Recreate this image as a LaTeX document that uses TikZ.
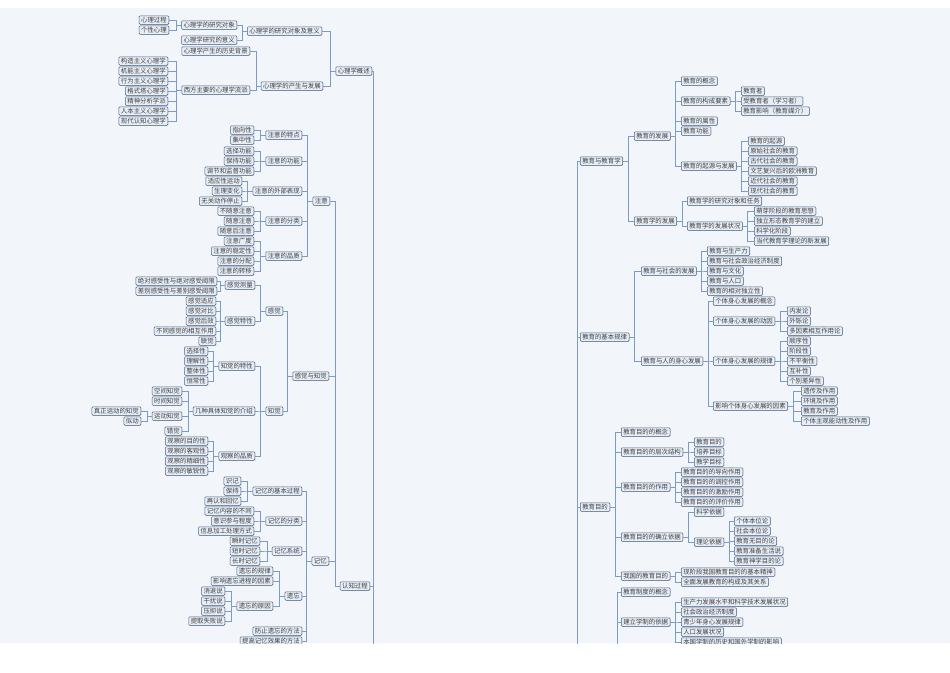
\documentclass[tikz,border=0pt]{standalone}
\usepackage{fontspec}
\setmainfont{Noto Sans CJK SC}
\usetikzlibrary{shadows}
\definecolor{bgc}{HTML}{F2F5FA}
\definecolor{boxf}{HTML}{E8EEF6}
\definecolor{boxd}{HTML}{4A6386}
\definecolor{lnc}{HTML}{7A9CC6}
\tikzset{
 box/.style={draw=boxd,fill=boxf,rounded corners=1pt,line width=0.5pt,inner xsep=2pt,inner ysep=0.8pt,minimum height=8.5pt,font=\fontsize{6.4}{7}\selectfont,text=black!75,drop shadow={shadow xshift=0.5pt,shadow yshift=-0.5pt,fill=boxd!60}},
 conn/.style={draw=lnc,line width=0.6pt}
}
\newcommand\LN[4]{\node[box,anchor=east] (#1) at (#2,#3) {#4};}
\newcommand\RN[4]{\node[box,anchor=west] (#1) at (#2,#3) {#4};}
\newcommand\LB[2]{\foreach \c in {#2}{\draw[conn] (#1.west) -- ++(-5,0) |- (\c.east);}}
\newcommand\RB[2]{\foreach \c in {#2}{\draw[conn] (#1.east) -- ++(5,0) |- (\c.west);}}
\begin{document}
\begin{tikzpicture}[x=1pt,y=-1pt]
\useasboundingbox (0,0) rectangle (950,672);
\fill[white] (0,0) rectangle (950,672);
\fill[bgc] (0,8) rectangle (950,643);
\clip (0,8) rectangle (950,643);
% ---- left: 心理学概述
\LN{a1}{169}{20}{心理过程}
\LN{a2}{169}{30}{个性心理}
\LN{a3}{237}{25}{心理学的研究对象}
\LN{a4}{237}{40}{心理学研究的意义}
\LN{a5}{322}{31}{心理学的研究对象及意义}
\LN{a6}{250}{51}{心理学产生的历史背景}
\LN{b1}{168}{61}{构造主义心理学}
\LN{b2}{168}{71}{机能主义心理学}
\LN{b3}{168}{81}{行为主义心理学}
\LN{b4}{168}{91}{格式塔心理学}
\LN{b5}{168}{101}{精神分析学派}
\LN{b6}{168}{111}{人本主义心理学}
\LN{b7}{168}{121}{现代认知心理学}
\LN{a7}{250}{90}{西方主要的心理学流派}
\LN{a8}{323}{86}{心理学的产生与发展}
\LN{xl}{372}{71}{心理学概述}
\LB{a3}{a1,a2}\LB{a5}{a3,a4}\LB{a7}{b1,b2,b3,b4,b5,b6,b7}\LB{a8}{a6,a7}\LB{xl}{a5,a8}
% ---- 注意
\LN{c1}{254}{130}{指向性}
\LN{c2}{254}{140}{集中性}
\LN{c3}{302}{135}{注意的特点}
\LN{c4}{254}{151}{选择功能}
\LN{c5}{254}{161}{保持功能}
\LN{c6}{254}{171}{调节和监督功能}
\LN{c7}{302}{161}{注意的功能}
\LN{c8}{242}{181}{适应性运动}
\LN{c9}{242}{191}{生理变化}
\LN{c10}{242}{201}{无关动作停止}
\LN{c11}{302}{191}{注意的外部表现}
\LN{c12}{254}{211}{不随意注意}
\LN{c13}{254}{221}{随意注意}
\LN{c14}{254}{231}{随意后注意}
\LN{c15}{302}{221}{注意的分类}
\LN{c16}{254}{241}{注意广度}
\LN{c17}{254}{251}{注意的稳定性}
\LN{c18}{254}{261}{注意的分配}
\LN{c19}{254}{271}{注意的转移}
\LN{c20}{302}{256}{注意的品质}
\LN{zy}{330}{201}{注意}
\LB{c3}{c1,c2}\LB{c7}{c4,c5,c6}\LB{c11}{c8,c9,c10}\LB{c15}{c12,c13,c14}\LB{c20}{c16,c17,c18,c19}
\LB{zy}{c3,c7,c11,c15,c20}
% ---- 感觉与知觉
\LN{d1}{217}{281}{绝对感受性与绝对感受阈限}
\LN{d2}{217}{291}{差别感受性与差别感受阈限}
\LN{d3}{255}{285}{感觉测量}
\LN{d4}{216}{301}{感觉适应}
\LN{d5}{216}{311}{感觉对比}
\LN{d6}{216}{321}{感觉后效}
\LN{d7}{216}{331}{不同感觉的相互作用}
\LN{d8}{216}{341}{联觉}
\LN{d9}{255}{321}{感觉特性}
\LN{gj}{283}{311}{感觉}
\LN{e1}{208}{351}{选择性}
\LN{e2}{208}{361}{理解性}
\LN{e3}{208}{371}{整体性}
\LN{e4}{208}{381}{恒常性}
\LN{e5}{255}{366}{知觉的特性}
\LN{e6}{182}{391}{空间知觉}
\LN{e7}{182}{401}{时间知觉}
\LN{e8}{141}{411}{真正运动的知觉}
\LN{e9}{141}{421}{似动}
\LN{e10}{182}{416}{运动知觉}
\LN{e11}{182}{431}{错觉}
\LN{e12}{255}{411}{几种具体知觉的介绍}
\LN{e13}{208}{441}{观察的目的性}
\LN{e14}{208}{451}{观察的客观性}
\LN{e15}{208}{461}{观察的精细性}
\LN{e16}{208}{471}{观察的敏锐性}
\LN{e17}{255}{456}{观察的品质}
\LN{zj}{283}{411}{知觉}
\LN{gz}{329}{376}{感觉与知觉}
\LB{d3}{d1,d2}\LB{d9}{d4,d5,d6,d7,d8}\LB{gj}{d3,d9}
\LB{e5}{e1,e2,e3,e4}\LB{e10}{e8,e9}\LB{e12}{e6,e7,e10,e11}\LB{e17}{e13,e14,e15,e16}
\LB{zj}{e5,e12,e17}\LB{gz}{gj,zj}
% ---- 记忆
\LN{f1}{241}{481}{识记}
\LN{f2}{241}{491}{保持}
\LN{f3}{241}{501}{再认和回忆}
\LN{f4}{302}{491}{记忆的基本过程}
\LN{f5}{254}{511}{记忆内容的不同}
\LN{f6}{254}{521}{意识参与程度}
\LN{f7}{254}{531}{信息加工处理方式}
\LN{f8}{302}{521}{记忆的分类}
\LN{f9}{260}{541}{瞬时记忆}
\LN{f10}{260}{551}{短时记忆}
\LN{f11}{260}{561}{长时记忆}
\LN{f12}{302}{551}{记忆系统}
\LN{f13}{273}{571}{遗忘的规律}
\LN{f14}{273}{581}{影响遗忘进程的因素}
\LN{g1}{225}{591}{消退说}
\LN{g2}{225}{601}{干扰说}
\LN{g3}{225}{611}{压抑说}
\LN{g4}{225}{621}{提取失败说}
\LN{f15}{273}{606}{遗忘的原因}
\LN{f16}{302}{596}{遗忘}
\LN{f17}{302}{631}{防止遗忘的方法}
\LN{f18}{302}{641}{提高记忆效果的方法}
\LN{jy}{329}{561}{记忆}
\LN{rz}{370}{586}{认知过程}
\LB{f4}{f1,f2,f3}\LB{f8}{f5,f6,f7}\LB{f12}{f9,f10,f11}\LB{f15}{g1,g2,g3,g4}\LB{f16}{f13,f14,f15}
\LB{jy}{f4,f8,f12,f16,f17,f18}\LB{rz}{zy,gz,jy}
\coordinate (bl) at (373,660);
\draw[conn] (xl.east) -| (bl);
\draw[conn] (rz.east) -- (rz.east -| bl);
% ---- right: 教育与教育学
\RN{h1}{681}{81}{教育的概念}
\RN{h2}{681}{101}{教育的构成要素}
\RN{i1}{741}{91}{教育者}
\RN{i2}{741}{101}{受教育者（学习者）}
\RN{i3}{741}{111}{教育影响（教育媒介）}
\RN{h3}{681}{121}{教育的属性}
\RN{h4}{681}{131}{教育功能}
\RN{h5}{681}{166}{教育的起源与发展}
\RN{j1}{748}{141}{教育的起源}
\RN{j2}{748}{151}{原始社会的教育}
\RN{j3}{748}{161}{古代社会的教育}
\RN{j4}{748}{171}{文艺复兴后的欧洲教育}
\RN{j5}{748}{181}{近代社会的教育}
\RN{j6}{748}{191}{现代社会的教育}
\RN{hf}{634}{136}{教育的发展}
\RN{k1}{687}{201}{教育学的研究对象和任务}
\RN{k2}{687}{226}{教育学的发展状况}
\RN{l1}{754}{211}{萌芽阶段的教育思想}
\RN{l2}{754}{221}{独立形态教育学的建立}
\RN{l3}{754}{231}{科学化阶段}
\RN{l4}{754}{241}{当代教育学理论的新发展}
\RN{kf}{634}{221}{教育学的发展}
\RN{jj}{580}{161}{教育与教育学}
\RB{h2}{i1,i2,i3}\RB{h5}{j1,j2,j3,j4,j5,j6}\RB{hf}{h1,h2,h3,h4,h5}
\RB{k2}{l1,l2,l3,l4}\RB{kf}{k1,k2}\RB{jj}{hf,kf}
% ---- 教育的基本规律
\RN{m1}{707}{251}{教育与生产力}
\RN{m2}{707}{261}{教育与社会政治经济制度}
\RN{m3}{707}{271}{教育与文化}
\RN{m4}{707}{281}{教育与人口}
\RN{m5}{707}{291}{教育的相对独立性}
\RN{ms}{641}{271}{教育与社会的发展}
\RN{n1}{713}{301}{个体身心发展的概念}
\RN{n2}{713}{321}{个体身心发展的动因}
\RN{o1}{787}{311}{内发论}
\RN{o2}{787}{321}{外铄论}
\RN{o3}{787}{331}{多因素相互作用论}
\RN{n3}{713}{361}{个体身心发展的规律}
\RN{p1}{787}{341}{顺序性}
\RN{p2}{787}{351}{阶段性}
\RN{p3}{787}{361}{不平衡性}
\RN{p4}{787}{371}{互补性}
\RN{p5}{787}{381}{个别差异性}
\RN{n4}{713}{406}{影响个体身心发展的因素}
\RN{q1}{801}{391}{遗传及作用}
\RN{q2}{801}{401}{环境及作用}
\RN{q3}{801}{411}{教育及作用}
\RN{q4}{801}{421}{个体主观能动性及作用}
\RN{ns}{641}{361}{教育与人的身心发展}
\RN{gl}{580}{337}{教育的基本规律}
\RB{ms}{m1,m2,m3,m4,m5}\RB{n2}{o1,o2,o3}\RB{n3}{p1,p2,p3,p4,p5}\RB{n4}{q1,q2,q3,q4}
\RB{ns}{n1,n2,n3,n4}\RB{gl}{ms,ns}
% ---- 教育目的
\RN{r1}{621}{432}{教育目的的概念}
\RN{r2}{621}{452}{教育目的的层次结构}
\RN{s1}{694}{442}{教育目的}
\RN{s2}{694}{452}{培养目标}
\RN{s3}{694}{462}{教学目标}
\RN{r3}{621}{487}{教育目的的作用}
\RN{t1}{681}{472}{教育目的的导向作用}
\RN{t2}{681}{482}{教育目的的调控作用}
\RN{t3}{681}{492}{教育目的的激励作用}
\RN{t4}{681}{502}{教育目的的评价作用}
\RN{r4}{621}{537}{教育目的的确立依据}
\RN{u1}{694}{512}{科学依据}
\RN{u2}{694}{542}{理论依据}
\RN{v1}{734}{521}{个体本位论}
\RN{v2}{734}{531}{社会本位论}
\RN{v3}{734}{541}{教育无目的论}
\RN{v4}{734}{551}{教育准备生活说}
\RN{v5}{734}{561}{教育神学目的论}
\RN{r5}{621}{576}{我国的教育目的}
\RN{w1}{681}{572}{现阶段我国教育目的的基本精神}
\RN{w2}{681}{582}{全面发展教育的构成及其关系}
\RN{md}{580}{507}{教育目的}
\RB{r2}{s1,s2,s3}\RB{r3}{t1,t2,t3,t4}\RB{u2}{v1,v2,v3,v4,v5}\RB{r4}{u1,u2}\RB{r5}{w1,w2}
\RB{md}{r1,r2,r3,r4,r5}
% ---- 教育制度
\RN{z1}{621}{592}{教育制度的概念}
\RN{z2}{621}{622}{建立学制的依据}
\RN{y1}{681}{602}{生产力发展水平和科学技术发展状况}
\RN{y2}{681}{612}{社会政治经济制度}
\RN{y3}{681}{622}{青少年身心发展规律}
\RN{y4}{681}{632}{人口发展状况}
\RN{y5}{681}{642}{本国学制的历史和国外学制的影响}
\RB{z2}{y1,y2,y3,y4,y5}
\coordinate (bz) at (617,660);
\draw[conn] (z1.west) -| (bz);
\draw[conn] (z2.west) -- (z2.west -| bz);
\coordinate (br) at (577,660);
\draw[conn] (jj.west) -| (br);
\draw[conn] (gl.west) -- (gl.west -| br);
\draw[conn] (md.west) -- (md.west -| br);
\end{tikzpicture}
\end{document}
